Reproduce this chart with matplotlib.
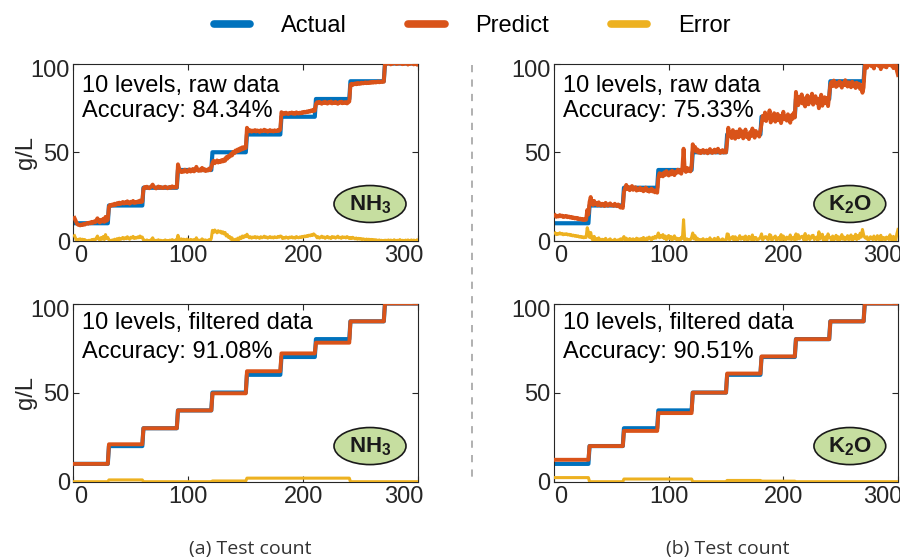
import numpy as np
import matplotlib
matplotlib.use("Agg")
import matplotlib.pyplot as plt
from matplotlib.lines import Line2D
from matplotlib.patches import Ellipse
from matplotlib.transforms import ScaledTranslation

plt.rcParams['font.family'] = ['Liberation Sans', 'DejaVu Sans']
plt.rcParams['mathtext.fontset'] = 'custom'
plt.rcParams['mathtext.rm'] = 'Liberation Sans'
plt.rcParams['mathtext.bf'] = 'Liberation Sans:bold'

# ---------------- data ----------------
levels = [10, 20, 30, 40, 50, 60, 70, 80, 90, 100]
points_per_level = 30

nh3_filtered_levels = [10, 21, 30, 40, 49.6, 62, 72, 78, 90, 100]
k2o_filtered_levels = [12.3, 20, 28.5, 38.5, 50, 60.7, 70.3, 80, 90, 100]

nh3_raw_pred = [
    13.0, 11.5, 10.0, 9.2, 9.0, 8.8, 9.3, 9.0, 9.6, 9.2, 9.8, 10.1, 9.7, 10.4, 10.0,
    10.8, 10.2, 11.0, 10.5, 11.6, 12.8, 11.2, 10.4, 11.9, 11.0, 12.5, 10.8, 13.6, 11.4, 12.0,
    19.4, 20.3, 19.8, 20.6, 20.1, 21.0, 20.4, 21.3, 20.7, 21.6, 20.9, 21.2, 22.0, 21.1, 21.8,
    21.3, 22.4, 21.5, 21.0, 22.1, 21.7, 22.6, 21.4, 22.0, 21.6, 22.3, 21.8, 22.8, 21.9, 22.2,
    29.5, 30.4, 29.8, 30.6, 30.1, 29.7, 30.3, 30.9, 31.8, 30.5, 30.0, 29.6, 30.2, 30.7, 29.9,
    30.4, 30.1, 29.8, 30.3, 30.6, 30.0, 29.7, 30.2, 30.5, 29.9, 30.8, 30.3, 30.0, 30.6, 30.2,
    43.2, 41.0, 39.4, 38.8, 39.6, 39.0, 40.2, 39.3, 38.9, 39.8, 40.4, 39.1, 39.7, 40.6, 39.2,
    39.9, 41.8, 40.0, 39.5, 40.3, 39.6, 41.2, 39.8, 40.5, 39.4, 40.1, 39.7, 40.8, 39.9, 41.5,
    44.0, 45.2, 43.8, 44.6, 45.4, 44.2, 45.0, 44.5, 45.6, 44.8, 46.0, 45.2, 47.2, 46.4, 48.0,
    47.5, 49.0, 48.2, 50.2, 49.4, 51.0, 50.3, 51.6, 50.8, 52.2, 51.4, 52.8, 51.9, 53.0, 52.4,
    63.8, 62.6, 61.8, 62.4, 61.6, 62.2, 61.9, 62.5, 61.7, 62.3, 62.0, 61.5, 62.4, 61.8, 62.1,
    62.7, 61.9, 62.3, 61.6, 62.0, 62.5, 61.8, 62.2, 61.7, 62.4, 62.0, 61.9, 62.6, 62.1, 62.8,
    72.6, 71.4, 72.0, 71.6, 72.3, 71.8, 71.5, 72.2, 71.9, 72.4, 71.7, 72.1, 71.6, 72.5, 72.0,
    71.8, 72.3, 71.9, 72.6, 72.2, 72.8, 72.4, 73.0, 72.6, 73.3, 72.9, 73.6, 73.1, 74.0, 73.4,
    77.2, 78.2, 77.6, 78.4, 77.9, 77.3, 78.1, 77.7, 78.5, 77.8, 77.4, 78.3, 77.9, 78.6, 77.5,
    78.0, 77.7, 78.4, 77.8, 77.3, 78.2, 77.9, 78.5, 77.6, 78.1, 77.8, 78.3, 77.5, 78.0, 78.6,
    88.0, 88.6, 87.9, 88.4, 88.8, 88.3, 89.0, 88.5, 88.9, 88.6, 89.2, 88.8, 89.0, 89.4, 88.9,
    89.3, 89.0, 89.5, 89.1, 89.6, 89.2, 89.7, 89.3, 89.5, 89.9, 89.4, 89.8, 89.6, 90.0, 89.7,
    99.6, 100.4, 99.8, 100.6, 100.1, 99.5, 100.3, 99.9, 100.7, 100.2, 99.7, 100.4, 99.9, 100.8, 100.0,
    99.6, 100.3, 99.8, 100.5, 100.1, 99.4, 100.2, 99.8, 100.6, 100.0, 99.5, 100.3, 99.9, 99.3, 99.8,
]

k2o_raw_pred = [
    14.5, 13.6, 14.2, 13.8, 14.6, 13.9, 14.3, 13.5, 14.0, 13.7, 14.1, 13.4, 13.8, 13.2, 13.6,
    12.9, 13.3, 12.7, 13.1, 12.5, 12.9, 12.2, 12.6, 12.0, 12.4, 11.8, 12.3, 12.0, 17.5, 15.0,
    22.0, 24.8, 21.5, 20.3, 22.6, 20.8, 21.3, 20.1, 21.8, 20.6, 19.9, 21.0, 20.6, 19.7, 21.5,
    20.3, 19.9, 20.8, 21.2, 20.1, 20.4, 19.8, 21.0, 20.1, 19.6, 20.6, 19.4, 18.8, 19.6, 18.6,
    27.5, 29.8, 31.6, 29.3, 30.4, 28.6, 29.6, 31.0, 28.8, 29.4, 30.3, 28.4, 29.5, 28.8, 30.0,
    28.6, 29.4, 28.0, 28.9, 30.1, 28.3, 29.0, 27.8, 28.7, 29.5, 27.9, 28.6, 27.4, 28.4, 27.2,
    35.5, 38.2, 36.8, 37.9, 36.4, 38.6, 37.2, 39.4, 37.8, 36.9, 38.8, 37.5, 39.6, 38.0, 37.1,
    39.0, 38.4, 40.2, 38.6, 39.8, 37.9, 41.5, 52.0, 40.4, 38.9, 41.2, 39.5, 40.8, 39.2, 42.0,
    54.5, 51.2, 53.0, 50.4, 51.6, 49.8, 50.9, 49.5, 50.6, 51.3, 49.7, 50.2, 51.0, 49.4, 50.5,
    51.8, 50.1, 49.6, 50.8, 51.5, 49.9, 50.4, 52.0, 50.3, 49.6, 50.7, 51.2, 49.8, 50.5, 49.9,
    56.0, 63.8, 59.4, 61.2, 58.0, 62.5, 59.8, 57.6, 61.6, 60.2, 58.4, 63.0, 59.0, 61.8, 57.8,
    60.6, 62.8, 58.6, 60.0, 57.4, 61.4, 59.2, 63.4, 60.4, 58.2, 62.0, 59.6, 61.0, 58.8, 62.2,
    66.0, 70.5, 68.2, 72.4, 67.6, 71.0, 69.2, 73.6, 66.8, 70.2, 68.4, 72.0, 67.2, 69.8, 71.6,
    68.0, 70.6, 66.4, 69.4, 72.8, 68.6, 70.0, 67.8, 71.4, 69.0, 66.6, 70.8, 68.8, 72.2, 69.6,
    84.0, 79.0, 76.5, 81.2, 78.0, 82.6, 77.4, 80.4, 75.8, 79.6, 82.0, 77.0, 80.8, 78.4, 83.0,
    76.8, 79.2, 81.6, 77.8, 80.0, 74.8, 78.8, 82.4, 76.2, 79.8, 81.0, 77.6, 80.6, 76.0, 82.0,
    88.0, 89.6, 87.2, 90.4, 88.6, 86.8, 89.2, 87.6, 90.0, 88.2, 86.4, 89.0, 87.8, 90.6, 88.4,
    87.0, 89.4, 88.0, 86.6, 89.8, 87.4, 88.8, 86.2, 89.2, 87.0, 88.6, 85.6, 87.8, 83.5, 86.5,
    98.0, 101.5, 97.6, 100.2, 99.0, 102.4, 98.4, 100.8, 97.2, 101.0, 99.4, 103.0, 98.6, 100.4, 96.8,
    99.8, 102.0, 98.2, 100.6, 97.8, 101.8, 99.2, 103.5, 98.8, 100.0, 97.4, 101.2, 99.6, 96.0, 93.5,
]

panel_titles = ["10 levels, raw data", "10 levels, raw data",
                "10 levels, filtered data", "10 levels, filtered data"]
accuracies = ["Accuracy: 84.34%", "Accuracy: 75.33%",
              "Accuracy: 91.08%", "Accuracy: 90.51%"]
compounds = [r"$\mathbf{NH_3}$", r"$\mathbf{K_2O}$", r"$\mathbf{NH_3}$", r"$\mathbf{K_2O}$"]
series_names = ["Actual", "Predict", "Error"]
captions = ["(a) Test count", "(b) Test count"]
x_ticks = [0, 100, 200, 300]
y_ticks = [0, 50, 100]

# ---------------- derived series ----------------
actual = np.repeat(levels, points_per_level).astype(float)
x = np.arange(1, len(actual) + 1)
preds = [np.array(nh3_raw_pred), np.array(k2o_raw_pred),
         np.repeat(nh3_filtered_levels, points_per_level).astype(float),
         np.repeat(k2o_filtered_levels, points_per_level).astype(float)]

BLUE, ORANGE, YELLOW = '#0072BD', '#D95319', '#EDB120'
TXT = '#262626'

W, H = 900, 559
fig = plt.figure(figsize=(9, 5.59), dpi=100)

def fx(px):
    return px / W

def fy(py):
    return 1 - py / H

axes_px = [
    (73.3, 63.5, 418.3, 241.0),
    (554.0, 63.5, 898.0, 241.0),
    (73.3, 303.5, 418.3, 481.7),
    (554.0, 303.5, 898.0, 481.7),
]
text_y = [(0.839, 0.699), (0.839, 0.699), (0.857, 0.694), (0.857, 0.694)]

for i, (l, t, r, b) in enumerate(axes_px):
    ax = fig.add_axes([fx(l), fy(b), (r - l) / W, (b - t) / H])
    pred = preds[i]
    err = np.abs(pred - actual)
    ax.plot(x, actual, color=BLUE, lw=3.0, zorder=2)
    ax.plot(x, pred, color=ORANGE, lw=2.8, zorder=3)
    ax.plot(x, err, color=YELLOW, lw=2.2, zorder=4)
    ax.set_xlim(0, 300)
    ax.set_ylim(0, 100)
    ax.set_xticks(x_ticks)
    ax.set_yticks(y_ticks)
    ax.tick_params(direction='in', length=4, width=0.8, top=True, right=True,
                   labelsize=17, colors=TXT, pad=3)
    ax.tick_params(axis='y', pad=2.5)
    for sp in ax.spines.values():
        sp.set_color(TXT)
        sp.set_linewidth(0.8)
    # shift edge tick labels like the reference
    for lab, dx in zip(ax.get_xticklabels(), [7, 0, 0, -15]):
        lab.set_transform(lab.get_transform() + ScaledTranslation(dx / 100, 0, fig.dpi_scale_trans))
    for lab, dy in zip(ax.get_yticklabels(), [0, 0, -5]):
        lab.set_transform(lab.get_transform() + ScaledTranslation(0, dy / 100, fig.dpi_scale_trans))
    if i % 2 == 0:
        ax.set_ylabel("g/L", fontsize=17, color=TXT)
        ax.yaxis.set_label_coords(-0.105, 0.5)
    ax.text(0.026, text_y[i][0], panel_titles[i], transform=ax.transAxes,
            fontsize=17, va='baseline', ha='left', color='black', zorder=6)
    ax.text(0.026, text_y[i][1], accuracies[i], transform=ax.transAxes,
            fontsize=17, va='baseline', ha='left', color='black', zorder=6)
    cy = 0.2085 if i < 2 else 0.2
    ax.add_patch(Ellipse((0.86, cy), 0.2087, 0.208, transform=ax.transAxes,
                         facecolor='#c6dea0', edgecolor='#1a1a1a', lw=1.2, zorder=7))
    ax.text(0.86, cy - 0.005, compounds[i], transform=ax.transAxes, fontsize=16,
            ha='center', va='center', color='#1a1a1a', zorder=8)

# legend
handles = [Line2D([], [], color=c, lw=5.5, solid_capstyle='round') for c in (BLUE, ORANGE, YELLOW)]
fig.legend(handles, series_names, loc='center', bbox_to_anchor=(fx(472), fy(26)),
           ncol=3, frameon=False, fontsize=17, handlelength=1.55, handletextpad=1.3,
           columnspacing=2.6)

# separator dashed line
fig.add_artist(Line2D([fx(472), fx(472)], [fy(65), fy(483)], transform=fig.transFigure,
                      color='#aaaaaa', lw=1.3, ls=(0, (4, 4))))

# captions
for cx, cap in zip([250, 728], captions):
    fig.text(fx(cx), fy(549), cap, ha='center', va='center', fontsize=14,
             family=['Open Sans', 'DejaVu Sans'], color='#333333')

fig.savefig("out.png", dpi=100)
